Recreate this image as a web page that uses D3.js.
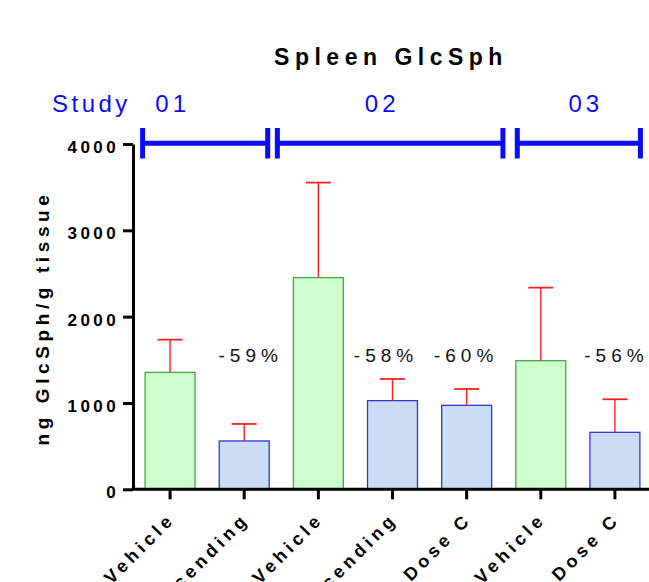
<!DOCTYPE html>
<html>
<head>
<meta charset="utf-8">
<script src="https://cdn.jsdelivr.net/npm/d3@7"></script>
<style>
  body { margin: 0; background: #fff; }
  text { font-family: Arial, "Liberation Sans", sans-serif; }
</style>
</head>
<body>
<svg width="649" height="582"></svg>
<script>
// data
const categories = ["Vehicle", "Ascending", "Vehicle", "Ascending", "Dose C", "Vehicle", "Dose C"];
const kinds = ["vehicle", "treated", "vehicle", "treated", "treated", "vehicle", "treated"];
const means = [1355, 560, 2452, 1027, 973, 1490, 660];
const errTops = [1733, 757, 3553, 1278, 1162, 2336, 1043];
const pctLabels = ["", "-59%", "", "-58%", "-60%", "", "-56%"];
const studies = ["01", "02", "03"];
const studyFirst = [0, 2, 5];
const studyLast = [1, 4, 6];
const yTicks = [0, 1000, 2000, 3000, 4000];

const svg = d3.select('svg');
const width = parseInt(svg.attr('width'));
const height = parseInt(svg.attr('height'));

const plotLeft = 133, plotRight = 652, plotTop = 144, plotBottom = 489.3;

const xScale = d3.scaleBand()
  .domain(d3.range(categories.length))
  .range([plotLeft, plotRight])
  .paddingInner(0.326)
  .paddingOuter(0.163);

const yScale = d3.scaleLinear()
  .domain([0, 4000])
  .range([plotBottom, plotTop]);

const fills = { vehicle: '#ccffcc', treated: '#c9ddf5' };
const strokes = { vehicle: '#45a845', treated: '#3535d0' };

// title
svg.append('text')
  .attr('x', 391)
  .attr('y', 65)
  .attr('text-anchor', 'middle')
  .style('font-size', '23px')
  .style('font-weight', 'bold')
  .style('letter-spacing', '5.5px')
  .text('Spleen GlcSph');

// study brackets
const blue = '#0a0aff';
svg.append('text')
  .attr('x', 52)
  .attr('y', 111.5)
  .style('font-size', '24px')
  .style('letter-spacing', '3.5px')
  .attr('fill', blue)
  .text('Study');

// bracket ends, nudged off the bar edges
const bx0 = i => xScale(studyFirst[i]) + [-5, -18.5, -1][i];
const bx1 = i => xScale(studyLast[i]) + xScale.bandwidth() + [1, 13.8, 3][i];
const labelShift = [-34.5, -10, 5];

const sg = svg.append('g');
studies.forEach((s, i) => {
  const a = bx0(i) + 2.5, b = bx1(i) - 2.5;
  sg.append('line').attr('x1', a).attr('x2', b).attr('y1', 143.3).attr('y2', 143.3)
    .attr('stroke', blue).attr('stroke-width', 5);
  [a, b].forEach(x => sg.append('line')
    .attr('x1', x).attr('x2', x).attr('y1', 128).attr('y2', 158.5)
    .attr('stroke', blue).attr('stroke-width', 5));
  sg.append('text')
    .attr('x', (a + b) / 2 + labelShift[i] + 2)
    .attr('y', 111.5)
    .attr('text-anchor', 'middle')
    .style('font-size', '24px')
    .style('letter-spacing', '4px')
    .attr('fill', blue)
    .text(s);
});

// bars
const g = svg.append('g');
g.selectAll('rect.bar').data(means)
  .enter().append('rect')
    .attr('class', 'bar')
    .attr('x', (d, i) => xScale(i))
    .attr('y', d => yScale(d))
    .attr('width', xScale.bandwidth())
    .attr('height', d => yScale(0) - yScale(d))
    .attr('fill', (d, i) => fills[kinds[i]])
    .attr('stroke', (d, i) => strokes[kinds[i]])
    .attr('stroke-width', 1.3);

// error bars (upper only)
const cx = i => xScale(i) + xScale.bandwidth() / 2;
const capHalf = xScale.bandwidth() / 4;
g.selectAll('line.err').data(errTops)
  .enter().append('line')
    .attr('class', 'err')
    .attr('x1', (d, i) => cx(i)).attr('x2', (d, i) => cx(i))
    .attr('y1', (d, i) => yScale(means[i]))
    .attr('y2', d => yScale(d))
    .attr('stroke', '#ff2020').attr('stroke-width', 1.4);
g.selectAll('line.cap').data(errTops)
  .enter().append('line')
    .attr('class', 'cap')
    .attr('x1', (d, i) => cx(i) - capHalf).attr('x2', (d, i) => cx(i) + capHalf)
    .attr('y1', d => yScale(d)).attr('y2', d => yScale(d))
    .attr('stroke', '#ff2020').attr('stroke-width', 1.8);

// percent labels
const pctShift = [0, 4, 0, -9, -3, 0, -1];
g.selectAll('text.pct').data(pctLabels)
  .enter().append('text')
    .attr('class', 'pct')
    .attr('x', (d, i) => cx(i) + pctShift[i] + 2.5)
    .attr('y', 361.5)
    .attr('text-anchor', 'middle')
    .style('font-size', '19px')
    .style('letter-spacing', '5px')
    .attr('fill', '#111')
    .text(d => d);

// axes
const yAxis = d3.axisLeft(yScale)
  .tickValues(yTicks)
  .tickSize(10)
  .tickSizeOuter(0)
  .tickPadding(4)
  .tickFormat(d3.format('d'));
const yAxisG = svg.append('g')
  .attr('transform', `translate(${plotLeft},0)`)
  .call(yAxis);
yAxisG.select('.domain').attr('stroke-width', 3);
yAxisG.selectAll('.tick line').attr('stroke-width', 3);
yAxisG.selectAll('.tick text')
  .attr('dy', '0.5em')
  .style('font-size', '17px')
  .style('font-weight', 'bold')
  .style('letter-spacing', '3.4px')
  .attr('fill', '#000');

const xAxis = d3.axisBottom(xScale)
  .tickSize(10)
  .tickSizeOuter(0)
  .tickFormat(i => categories[i]);
const xAxisG = svg.append('g')
  .attr('transform', `translate(0,${plotBottom})`)
  .call(xAxis);
xAxisG.select('.domain').attr('stroke-width', 3).attr('d', `M${plotLeft - 1.5},0H${width + 5}`);
xAxisG.selectAll('.tick line').attr('stroke-width', 3);
xAxisG.selectAll('.tick text')
  .style('font-size', '18px')
  .style('font-weight', 'bold')
  .style('letter-spacing', '4.2px')
  .attr('fill', '#000')
  .attr('text-anchor', 'end')
  .attr('x', 0)
  .attr('y', 0)
  .attr('dy', null)
  .attr('transform', 'translate(6,31) rotate(-45)');

// y axis label
svg.append('text')
  .attr('transform', `translate(49,318) rotate(-90)`)
  .attr('text-anchor', 'middle')
  .style('font-size', '19px')
  .style('font-weight', 'bold')
  .style('letter-spacing', '4.6px')
  .text('ng GlcSph/g tissue');
</script>
</body>
</html>
